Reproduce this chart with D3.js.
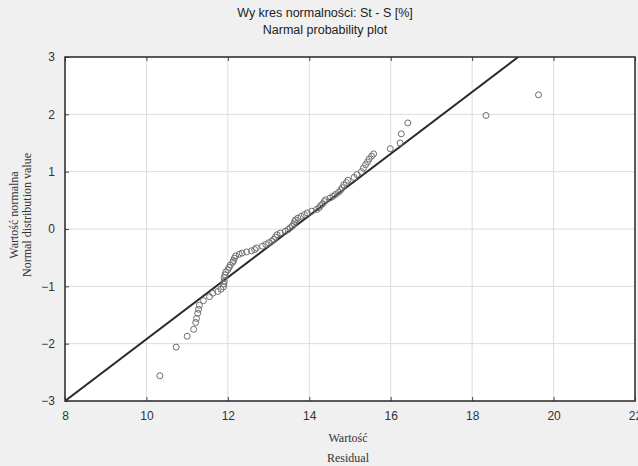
<!DOCTYPE html>
<html lang="pl">
<head>
<meta charset="utf-8">
<title>Wykres normalności</title>
<script src="https://cdn.jsdelivr.net/npm/d3@7"></script>
<style>
    body { margin: 0; background: #f0f0f0; }
    .title { font: 12.5px "Liberation Sans", Arial, sans-serif; fill: #222; }
    .axis-label { font: 12px "Liberation Serif", "Times New Roman", serif; fill: #333; }
    .tick-label { font: 12px "Liberation Sans", Arial, sans-serif; fill: #333; }
</style>
</head>
<body>
<div id="chart"></div>
<script>
// residual values (x) and normal distribution values (y)
const residuals = [10.33, 10.73, 11.00, 11.16, 11.21, 11.23, 11.26, 11.28, 11.30, 11.40,
    11.55, 11.63, 11.75, 11.83, 11.89, 11.90, 11.91, 11.91, 11.93, 11.95,
    12.00, 12.03, 12.06, 12.12, 12.14, 12.16, 12.19, 12.28, 12.35, 12.46,
    12.58, 12.66, 12.70, 12.85, 12.93, 13.00, 13.08, 13.13, 13.17, 13.21,
    13.29, 13.41, 13.48, 13.53, 13.58, 13.62, 13.64, 13.66, 13.72, 13.80,
    13.88, 13.95, 14.06, 14.18, 14.24, 14.28, 14.33, 14.37, 14.40, 14.51,
    14.58, 14.64, 14.72, 14.77, 14.81, 14.85, 14.91, 14.95, 15.10, 15.17,
    15.28, 15.33, 15.38, 15.43, 15.47, 15.53, 15.58, 15.99, 16.23, 16.26,
    16.42, 18.34, 19.63];
const normalValues = [-2.56, -2.06, -1.87, -1.75, -1.63, -1.56, -1.47, -1.40, -1.33, -1.25,
    -1.18, -1.12, -1.09, -1.05, -1.01, -0.96, -0.91, -0.85, -0.80, -0.75,
    -0.71, -0.67, -0.63, -0.58, -0.55, -0.51, -0.47, -0.44, -0.42, -0.40,
    -0.38, -0.36, -0.33, -0.30, -0.27, -0.24, -0.21, -0.18, -0.14, -0.10,
    -0.07, -0.04, -0.01, 0.02, 0.05, 0.09, 0.13, 0.16, 0.19, 0.22,
    0.25, 0.28, 0.31, 0.34, 0.37, 0.41, 0.44, 0.48, 0.51, 0.54,
    0.57, 0.60, 0.64, 0.68, 0.72, 0.77, 0.81, 0.85, 0.90, 0.95,
    1.00, 1.06, 1.12, 1.17, 1.22, 1.27, 1.31, 1.40, 1.50, 1.66,
    1.85, 1.98, 2.34];

// reference line endpoints
const lineX = [8, 19.13];
const lineY = [-3, 3];

const xTicks = [8, 10, 12, 14, 16, 18, 20, 22];
const yTicks = [-3, -2, -1, 0, 1, 2, 3];

const titleLines = ["Wy kres normalności: St - S [%]", "Narmal probability plot"];
const yLabelLines = ["Wartość normalna", "Normal distribution value"];
const xLabelLines = ["Wartość", "Residual"];

const W = 638, H = 466;
const margin = {top: 57, right: 3, bottom: 65, left: 65};
const width = W - margin.left - margin.right,
      height = H - margin.top - margin.bottom;

const svg = d3.select("#chart").append("svg")
    .attr("width", W)
    .attr("height", H);

svg.append("rect")
    .attr("width", W).attr("height", H)
    .attr("fill", "#f0f0f0");

const g = svg.append("g")
    .attr("transform", "translate(" + margin.left + "," + margin.top + ")");

const x = d3.scaleLinear().domain([8, 22]).range([0, width]);
const y = d3.scaleLinear().domain([-3, 3]).range([height, 0]);

g.append("rect")
    .attr("width", width).attr("height", height)
    .attr("fill", "#fff");

g.append("clipPath").attr("id", "clip")
    .append("rect").attr("width", width).attr("height", height);

// grid
g.append("g")
    .selectAll("line")
    .data(xTicks.slice(1, -1))
    .enter().append("line")
    .attr("x1", d => x(d)).attr("x2", d => x(d))
    .attr("y1", 0).attr("y2", height)
    .attr("stroke", "#dcdcdc").attr("stroke-width", 1);
g.append("g")
    .selectAll("line")
    .data(yTicks.slice(1, -1))
    .enter().append("line")
    .attr("x1", 0).attr("x2", width)
    .attr("y1", d => y(d)).attr("y2", d => y(d))
    .attr("stroke", "#dcdcdc").attr("stroke-width", 1);

// axes (ticks pointing inward)
const fmt = d3.format("d");
const xAxis = g.append("g")
    .attr("transform", "translate(0," + height + ")")
    .call(d3.axisBottom(x).tickValues(xTicks).tickFormat(fmt).tickSizeInner(-4).tickSizeOuter(0).tickPadding(10));
const xTop = g.append("g")
    .call(d3.axisTop(x).tickValues(xTicks).tickSizeInner(-4).tickSizeOuter(0).tickFormat(""));
const yAxis = g.append("g")
    .call(d3.axisLeft(y).tickValues(yTicks).tickFormat(fmt).tickSizeInner(-4).tickSizeOuter(0).tickPadding(10));

[xAxis, xTop, yAxis].forEach(a => {
    a.select(".domain").remove();
    a.selectAll(".tick line").attr("stroke", "#444");
    a.selectAll(".tick text").attr("class", "tick-label").attr("fill", null);
});

// reference line
g.append("line")
    .attr("clip-path", "url(#clip)")
    .attr("x1", x(lineX[0])).attr("y1", y(lineY[0]))
    .attr("x2", x(lineX[1])).attr("y2", y(lineY[1]))
    .attr("stroke", "#2a2a2a").attr("stroke-width", 2);

// points
g.append("g")
    .selectAll("circle")
    .data(residuals.map((d, i) => [d, normalValues[i]]))
    .enter().append("circle")
    .attr("cx", d => x(d[0]))
    .attr("cy", d => y(d[1]))
    .attr("r", 3)
    .attr("fill", "none")
    .attr("stroke", "#6e6e6e")
    .attr("stroke-width", 1);

// frame
g.append("rect")
    .attr("width", width).attr("height", height)
    .attr("fill", "none")
    .attr("stroke", "#333").attr("stroke-width", 1.6);

// titles
svg.selectAll(".title")
    .data(titleLines)
    .enter().append("text")
    .attr("class", "title")
    .attr("x", 325)
    .attr("y", (d, i) => 17 + i * 17)
    .attr("text-anchor", "middle")
    .text(d => d);

svg.selectAll(".ylab")
    .data(yLabelLines)
    .enter().append("text")
    .attr("class", "axis-label")
    .attr("text-anchor", "middle")
    .attr("transform", (d, i) => "translate(" + (18 + i * 13) + ",215) rotate(-90)")
    .text(d => d);

svg.selectAll(".xlab")
    .data(xLabelLines)
    .enter().append("text")
    .attr("class", "axis-label")
    .attr("text-anchor", "middle")
    .attr("x", 348)
    .attr("y", (d, i) => 442 + i * 20)
    .text(d => d);
</script>
</body>
</html>
